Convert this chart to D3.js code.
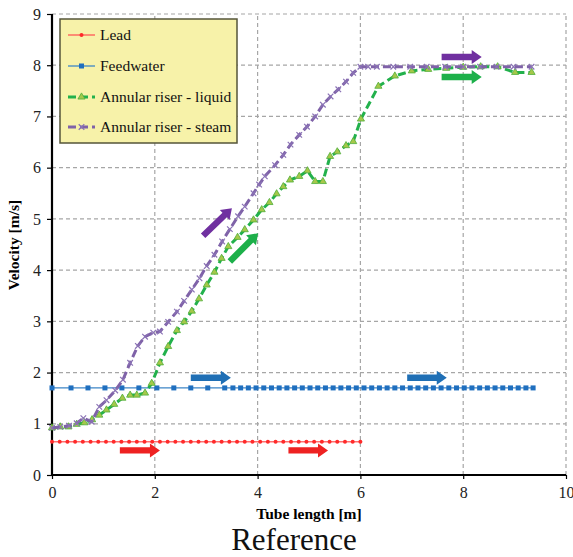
<!DOCTYPE html>
<html><head><meta charset="utf-8">
<script src="https://cdn.jsdelivr.net/npm/d3@7"></script>
<style>body{margin:0;background:#fff}text{font-family:"Liberation Serif","Times New Roman",serif}</style>
</head><body><svg id="c" width="573" height="557"></svg>
<script>
const xTicks=[0,2,4,6,8,10];
const yTicks=[0,1,2,3,4,5,6,7,8,9];
const seriesNames=["Lead","Feedwater","Annular riser - liquid","Annular riser - steam"];
const leadX=[0,0.15,0.3,0.45,0.6,0.75,0.9,1.05,1.2,1.35,1.5,1.65,1.8,1.95,2.1,2.25,2.4,2.55,2.7,2.85,3,3.15,3.3,3.45,3.6,3.75,3.9,4.05,4.2,4.35,4.5,4.65,4.8,4.95,5.1,5.25,5.4,5.55,5.7,5.85,6];
const leadV=0.65;
const feedX=[0,0.37,0.7,1.03,1.36,1.69,2.04,2.37,2.7,3.03,3.36,3.52,3.67,3.82,3.97,4.12,4.27,4.42,4.57,4.72,4.87,5.02,5.17,5.32,5.47,5.62,5.77,5.92,6.07,6.22,6.37,6.52,6.67,6.82,6.97,7.12,7.27,7.42,7.57,7.72,7.87,8.02,8.17,8.32,8.47,8.62,8.77,8.92,9.07,9.22,9.36];
const feedV=1.7;
const liquidX=[0,0.16,0.32,0.48,0.63,0.78,0.92,1.06,1.21,1.37,1.52,1.65,1.81,1.94,2.1,2.26,2.43,2.57,2.72,2.86,3.01,3.16,3.3,3.43,3.61,3.75,3.92,4.08,4.23,4.37,4.5,4.63,4.81,4.97,5.12,5.27,5.41,5.55,5.72,5.86,6.01,6.35,6.67,7.0,7.32,7.67,8.0,8.34,8.67,9.01,9.33];
const liquidV=[0.92,0.94,0.94,0.99,1.02,1.08,1.17,1.27,1.38,1.5,1.56,1.56,1.6,1.79,2.19,2.51,2.82,2.99,3.2,3.44,3.71,3.96,4.23,4.46,4.64,4.79,4.98,5.18,5.32,5.49,5.63,5.76,5.83,5.94,5.73,5.73,6.22,6.31,6.43,6.51,6.95,7.59,7.79,7.89,7.92,7.94,7.96,7.97,7.97,7.86,7.86];
const steamX=[0,0.16,0.33,0.48,0.61,0.77,0.92,1.06,1.23,1.38,1.52,1.67,1.81,1.97,2.1,2.26,2.43,2.57,2.72,2.87,3.01,3.16,3.31,3.46,3.62,3.75,3.92,4.03,4.14,4.34,4.5,4.64,4.81,4.96,5.12,5.27,5.42,5.57,5.72,5.86,6.0,6.15,6.32,6.64,6.97,7.29,7.65,8.0,8.33,8.65,8.98,9.33];
const steamV=[0.92,0.94,0.96,1.01,1.11,1.04,1.33,1.46,1.65,1.86,2.19,2.52,2.7,2.78,2.8,2.99,3.19,3.4,3.62,3.84,4.08,4.3,4.56,4.8,5.05,5.24,5.5,5.67,5.83,6.05,6.25,6.45,6.64,6.8,7.0,7.23,7.39,7.53,7.68,7.85,7.97,7.97,7.97,7.97,7.97,7.97,7.97,7.97,7.97,7.97,7.97,7.97];
// annotation arrows: [x0,y0,x1,y1] in data units
const arrowsRed=[[1.32,0.48,2.1,0.48],[4.6,0.48,5.37,0.48]];
const arrowsBlue=[[2.7,1.9,3.48,1.9],[6.91,1.9,7.68,1.9]];
const arrowsGreen=[[3.46,4.17,4.01,4.72],[7.58,7.77,8.36,7.77]];
const arrowsPurple=[[2.94,4.67,3.5,5.21],[7.58,8.16,8.36,8.16]];

const svg=d3.select("#c");
const x=d3.scaleLinear().domain([0,10]).range([52,566]);
const y=d3.scaleLinear().domain([0,9]).range([475,14]);
const serif='"Liberation Serif","Times New Roman",serif';
const C={red:"#ff2a2a",blue:"#2273bf",green:"#22b14c",purple:"#7f62a8"};

// grid
const g=svg.append("g");
g.selectAll(".gh").data(yTicks.filter(d=>d>0)).join("line")
 .attr("x1",x(0)).attr("x2",x(10)).attr("y1",d=>y(d)).attr("y2",d=>y(d))
 .attr("stroke","#a6a6a6").attr("stroke-width",1.2).attr("stroke-dasharray","4,3");
g.selectAll(".gv").data(xTicks.filter(d=>d>0)).join("line")
 .attr("y1",y(0)).attr("y2",y(9)).attr("x1",d=>x(d)).attr("x2",d=>x(d))
 .attr("stroke","#a6a6a6").attr("stroke-width",1.2).attr("stroke-dasharray","4,3");

// axes
const ax=svg.append("g").attr("transform",`translate(0,${y(0)})`)
 .call(d3.axisBottom(x).tickValues(xTicks).tickSize(4).tickPadding(8));
const ay=svg.append("g").attr("transform",`translate(${x(0)},0)`)
 .call(d3.axisLeft(y).tickValues(yTicks).tickSize(5).tickPadding(6));
[ax,ay].forEach(a=>{a.attr("font-family",null).attr("font-size",null);
 a.select(".domain").attr("stroke","#000").attr("stroke-width",2.2);
 a.selectAll(".tick line").attr("stroke","#000").attr("stroke-width",1.2);
 a.selectAll("text").style("font-family",serif).style("font-size","16px").attr("fill","#222");});
ay.select(".domain").attr("d",`M0,${y(9)}V${y(0)}`);
ax.select(".domain").attr("d",`M${x(0)},0H${x(10)}`);

// series
const line=d3.line().x(d=>x(d[0])).y(d=>y(d[1]));
const lead=leadX.map(v=>[v,leadV]);
const feed=feedX.map(v=>[v,feedV]);
const liq=liquidX.map((v,i)=>[v,liquidV[i]]);
const stm=steamX.map((v,i)=>[v,steamV[i]]);

svg.append("path").datum(lead).attr("d",line).attr("fill","none").attr("stroke","#ff7070").attr("stroke-width",1.5);
svg.selectAll(".lm").data(lead).join("circle").attr("cx",d=>x(d[0])).attr("cy",d=>y(d[1])).attr("r",2).attr("fill",C.red);

svg.append("path").datum(feed).attr("d",line).attr("fill","none").attr("stroke","#3d85c6").attr("stroke-width",1.3);
svg.selectAll(".fm").data(feed).join("rect").attr("x",d=>x(d[0])-2.5).attr("y",d=>y(d[1])-2.5).attr("width",5).attr("height",5).attr("fill","#1f6fbf");

svg.append("path").datum(liq).attr("d",line).attr("fill","none").attr("stroke",C.green).attr("stroke-width",3).attr("stroke-dasharray","8,4");
const tri=d3.symbol().type(d3.symbolTriangle).size(22);
svg.selectAll(".gm").data(liq).join("path").attr("d",tri).attr("transform",d=>`translate(${x(d[0])},${y(d[1])})`)
 .attr("fill","#a5c84a").attr("stroke","#4fae3a").attr("stroke-width",0.8);

svg.append("path").datum(stm).attr("d",line).attr("fill","none").attr("stroke",C.purple).attr("stroke-width",3).attr("stroke-dasharray","8,4");
const cross=d3.symbol().type(d3.symbolX).size(22);
svg.selectAll(".sm").data(stm).join("path").attr("d",cross).attr("transform",d=>`translate(${x(d[0])},${y(d[1])})`)
 .attr("fill","none").attr("stroke","#8a72b5").attr("stroke-width",1.2);

// arrows
function drawArrows(arr,col){
 arr.forEach(a=>{
  const x0=x(a[0]),y0=y(a[1]),x1=x(a[2]),y1=y(a[3]);
  const L=Math.hypot(x1-x0,y1-y0),ang=Math.atan2(y1-y0,x1-x0)*180/Math.PI;
  const h=10,w=3.2,hw=7;
  svg.append("path").attr("d",`M0,${-w}L${L-h},${-w}L${L-h},${-hw}L${L},0L${L-h},${hw}L${L-h},${w}L0,${w}Z`)
   .attr("transform",`translate(${x0},${y0}) rotate(${ang})`).attr("fill",col);
 });
}
drawArrows(arrowsRed,"#ee2222");
drawArrows(arrowsBlue,"#1f6fb5");
drawArrows(arrowsGreen,"#1db04a");
drawArrows(arrowsPurple,"#7030a0");

// legend
const lg=svg.append("g");
lg.append("rect").attr("x",60).attr("y",19).attr("width",177).attr("height",124).attr("fill","#f7f2a9").attr("stroke","#55553a").attr("stroke-width",1.5);
const legY=[35,66,97,127];
const legStyle=[{c:"#ff5555",d:null,w:1.3},{c:"#3d85c6",d:null,w:1.3},{c:C.green,d:"8,4",w:3},{c:C.purple,d:"8,4",w:3}];
seriesNames.forEach((n,i)=>{
 const s=legStyle[i];
 lg.append("line").attr("x1",68).attr("x2",95).attr("y1",legY[i]).attr("y2",legY[i]).attr("stroke",s.c).attr("stroke-width",s.w).attr("stroke-dasharray",s.d);
 const cx=81.5,cy=legY[i];
 if(i===0)lg.append("circle").attr("cx",cx).attr("cy",cy).attr("r",2).attr("fill",C.red);
 if(i===1)lg.append("rect").attr("x",cx-2.5).attr("y",cy-2.5).attr("width",5).attr("height",5).attr("fill","#1f6fbf");
 if(i===2)lg.append("path").attr("d",tri).attr("transform",`translate(${cx},${cy})`).attr("fill","#a5c84a").attr("stroke","#4fae3a").attr("stroke-width",0.8);
 if(i===3)lg.append("path").attr("d",cross).attr("transform",`translate(${cx},${cy})`).attr("stroke","#8a72b5").attr("stroke-width",1.2);
 lg.append("text").attr("x",100).attr("y",cy+5).text(n).style("font-family",serif).style("font-size","15.5px").attr("fill","#111");
});

// titles
svg.append("text").attr("transform",`translate(19,245) rotate(-90)`).attr("text-anchor","middle")
 .style("font-family",serif).style("font-weight","bold").style("font-size","15.5px").text("Velocity [m/s]");
svg.append("text").attr("x",309).attr("y",519).attr("text-anchor","middle")
 .style("font-family",serif).style("font-weight","bold").style("font-size","15.5px").text("Tube length [m]");
svg.append("text").attr("x",294).attr("y",550).attr("text-anchor","middle")
 .style("font-family",serif).style("font-size","31px").attr("fill","#111").text("Reference");
</script></body></html>
